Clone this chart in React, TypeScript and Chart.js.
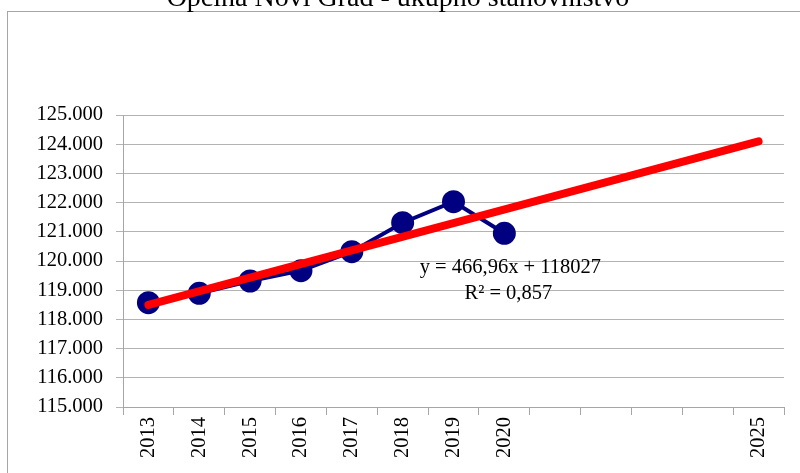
import React, { useEffect, useRef } from "react";
import { Chart, registerables } from "chart.js";

Chart.register(...registerables);

const TITLE = "Općina Novi Grad - ukupno stanovništvo";
const CATEGORIES = ["2013", "2014", "2015", "2016", "2017", "2018", "2019", "2020", "", "", "", "", "2025"];
const POPULATION = [118572, 118894, 119315, 119668, 120318, 121312, 122031, 120949];
const TREND_START = 118494;
const TREND_END = 124097;
const TREND_EQUATION = "y = 466,96x + 118027";
const TREND_R2 = "R² = 0,857";
const Y_MIN = 115000;
const Y_MAX = 125000;
const Y_STEP = 1000;

const FONT = "'Liberation Serif', 'Times New Roman', serif";

function formatThousands(v: number): string {
  const s = Math.round(v).toString();
  return s.replace(/\B(?=(\d{3})+(?!\d))/g, ".");
}

export default function App() {
  const ref = useRef<HTMLCanvasElement | null>(null);

  useEffect(() => {
    const canvas = ref.current;
    if (!canvas) return;

    const trendData: (number | null)[] = CATEGORIES.map(() => null);
    trendData[0] = TREND_START;
    trendData[CATEGORIES.length - 1] = TREND_END;

    const decor = {
      id: "decor",
      beforeDraw(chart: any) {
        const ctx = chart.ctx;
        ctx.save();
        ctx.fillStyle = "#ffffff";
        ctx.fillRect(0, 0, chart.width, chart.height);
        ctx.strokeStyle = "#a6a6a6";
        ctx.lineWidth = 1;
        ctx.strokeRect(7.5, 11.5, chart.width + 10, chart.height + 10);
        ctx.fillStyle = "#000000";
        ctx.font = `28px ${FONT}`;
        ctx.textAlign = "center";
        ctx.textBaseline = "alphabetic";
        ctx.fillText(TITLE, chart.width / 2 - 2, 6);
        ctx.restore();
      },
      afterDatasetsDraw(chart: any) {
        const ctx = chart.ctx;
        const xs = chart.scales.x;
        const ys = chart.scales.y;
        const cx = xs.getPixelForValue(7) + 6;
        ctx.save();
        ctx.fillStyle = "#000000";
        ctx.font = `20.5px ${FONT}`;
        ctx.textAlign = "center";
        ctx.textBaseline = "middle";
        ctx.fillText(TREND_EQUATION, cx, ys.getPixelForValue(119760));
        ctx.fillText(TREND_R2, cx - 2, ys.getPixelForValue(118900));
        ctx.restore();
      },
    };

    const chart = new Chart(canvas, {
      type: "line",
      data: {
        labels: CATEGORIES,
        datasets: [
          {
            label: "trend",
            data: trendData,
            borderColor: "#ff0000",
            borderWidth: 8,
            borderCapStyle: "round",
            pointRadius: 0,
            spanGaps: true,
            order: 0,
          },
          {
            label: "stanovništvo",
            data: POPULATION,
            borderColor: "#000080",
            backgroundColor: "#000080",
            borderWidth: 4,
            pointRadius: 9.5,
            pointBackgroundColor: "#000080",
            pointBorderColor: "#000080",
            order: 1,
          },
        ],
      },
      options: {
        animation: false,
        responsive: false,
        devicePixelRatio: 1,
        layout: { padding: { left: 0, right: 16, top: 115, bottom: 0 } },
        plugins: {
          legend: { display: false },
          title: { display: false },
          tooltip: { enabled: false },
        },
        scales: {
          x: {
            offset: true,
            grid: {
              offset: true,
              drawOnChartArea: false,
              drawTicks: true,
              tickLength: 8,
              color: "#a6a6a6",
            },
            border: { color: "#a6a6a6", width: 1 },
            ticks: {
              autoSkip: false,
              minRotation: 90,
              maxRotation: 90,
              padding: 2,
              color: "#000000",
              font: { family: FONT, size: 20.5 },
            },
            afterFit(scale: any) {
              scale.height = 66;
            },
          },
          y: {
            min: Y_MIN,
            max: Y_MAX,
            grid: {
              color: "#b3b3b3",
              tickLength: 7,
              drawTicks: true,
            },
            border: { color: "#a6a6a6", width: 1 },
            ticks: {
              stepSize: Y_STEP,
              padding: 13,
              color: "#000000",
              font: { family: FONT, size: 20.5 },
              callback: (v: any) => formatThousands(Number(v)),
            },
            afterFit(scale: any) {
              scale.width = 123;
            },
          },
        },
      },
      plugins: [decor],
    } as any);

    return () => chart.destroy();
  }, []);

  return (
    <div style={{ position: "fixed", left: 0, top: 0, width: 800, height: 473, background: "#fff" }}>
      <canvas ref={ref} width={800} height={473} style={{ display: "block", width: 800, height: 473 }} />
    </div>
  );
}
